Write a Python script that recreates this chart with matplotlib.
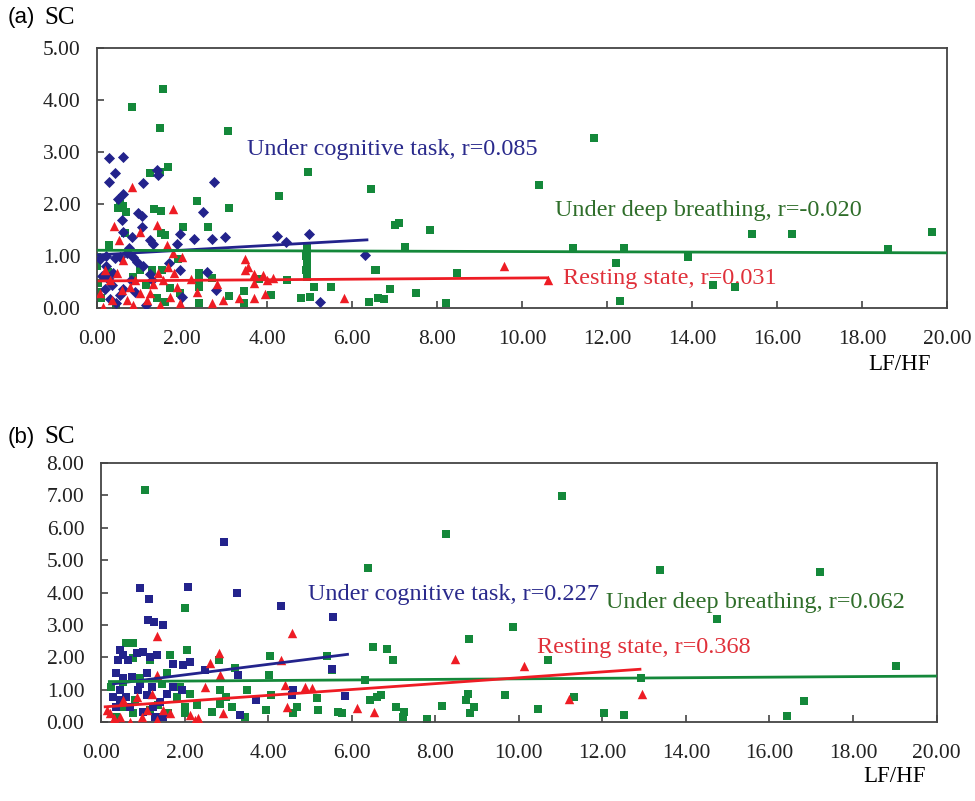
import matplotlib
matplotlib.use('Agg')
import matplotlib.pyplot as plt
from matplotlib.ticker import FormatStrFormatter, MultipleLocator

BLUE = '#23238c'
GREEN = '#14883a'
RED = '#ee1c24'
SERIF = 'Liberation Serif'

# ---- panel (a) data ----
a_cog_x = [0.29, 0.60, 0.42, 0.29, 1.09, 1.40, 1.44, 2.75, 0.60, 0.50,
           2.49, 0.97, 1.05, 0.58, 1.07, 0.62, 0.82, 1.25, 1.32, 1.95,
           2.27, 2.70, 3.00, 1.87, 4.23, 4.45, 4.99, 6.30, 0.07, 0.20,
           0.42, 0.54, 0.20, 0.37, 0.25, 0.18, 0.30, 0.45, 0.70, 0.85,
           0.93, 1.09, 0.80, 0.90, 0.60, 1.25, 1.30, 1.70, 1.95, 2.00,
           2.58, 2.80, 5.25, 0.12, 0.35, 0.55, 0.75, 1.15]
a_cog_y = [2.88, 2.90, 2.60, 2.42, 2.40, 2.65, 2.56, 2.43, 2.20, 2.10,
           1.85, 1.82, 1.76, 1.69, 1.56, 1.47, 1.37, 1.30, 1.24, 1.43,
           1.33, 1.33, 1.36, 1.24, 1.39, 1.27, 1.42, 1.02, 0.95, 1.00,
           0.97, 0.99, 0.81, 0.68, 0.56, 0.36, 0.17, 0.10, 1.05, 0.99,
           0.89, 0.80, 0.53, 0.30, 0.36, 0.66, 0.54, 0.86, 0.74, 0.22,
           0.70, 0.35, 0.12, 0.62, 0.45, 0.25, 1.15, 0.05]

a_deep_x = [1.56, 0.83, 1.48, 3.07, 1.68, 1.48, 1.25, 4.97, 6.44, 4.27,
            2.35, 3.11, 0.55, 0.62, 0.50, 0.68, 1.35, 1.50, 2.02, 2.61,
            1.50, 1.60, 0.66, 0.28, 0.00, 0.00, 0.03, 0.03, 0.85, 1.00,
            1.30, 1.52, 1.72, 2.40, 2.40, 2.40, 2.40, 1.95, 1.60, 3.10,
            3.45, 3.45, 4.46, 4.80, 5.00, 5.10, 5.50, 6.54, 6.40, 4.93,
            4.95, 4.92, 4.94, 4.93, 4.95, 4.92, 4.94, 4.93, 11.70, 10.40,
            7.00, 7.10, 7.84, 7.25, 6.56, 8.48, 11.20, 12.40, 12.20, 12.30,
            13.90, 14.50, 15.00, 15.40, 16.35, 18.60, 19.65, 6.60, 6.75, 6.90,
            7.50, 8.20, 0.10, 0.45, 1.15, 1.90, 0.25, 1.40, 2.70, 3.80,
            4.10]
a_deep_y = [4.22, 3.86, 3.47, 3.41, 2.72, 2.62, 2.60, 2.61, 2.28, 2.16,
            2.06, 1.93, 2.00, 1.96, 1.93, 1.85, 1.90, 1.86, 1.56, 1.56,
            1.45, 1.40, 1.45, 1.21, 0.99, 0.81, 0.49, 0.30, 0.60, 0.74,
            0.74, 0.74, 0.38, 0.67, 0.54, 0.41, 0.09, 0.28, 0.12, 0.23,
            0.32, 0.09, 0.54, 0.19, 0.22, 0.41, 0.41, 0.74, 0.12, 1.15,
            1.08, 1.00, 0.93, 0.86, 0.80, 0.73, 0.66, 0.60, 3.27, 2.37,
            1.60, 1.64, 1.50, 1.17, 0.73, 0.68, 1.15, 1.15, 0.87, 0.13,
            0.99, 0.44, 0.41, 1.42, 1.42, 1.13, 1.47, 0.20, 0.18, 0.36,
            0.29, 0.10, 0.20, 0.05, 0.45, 0.95, 0.70, 0.20, 0.58, 0.55,
            0.25]

a_rest_x = [0.83, 1.78, 0.39, 1.40, 1.01, 0.52, 1.65, 1.79, 1.99, 3.48,
            3.55, 3.48, 3.70, 3.90, 4.00, 3.70, 4.15, 3.70, 3.96, 3.33,
            2.82, 2.70, 2.97, 5.82, 9.58, 10.60, 0.19, 0.31, 0.46, 0.62,
            0.58, 0.78, 0.89, 1.01, 1.17, 1.32, 1.44, 1.56, 1.68, 1.80,
            1.87, 1.95, 1.72, 1.48, 1.25, 0.85, 0.70, 0.35, 0.07, 0.15,
            2.20, 2.35]
a_rest_y = [2.33, 1.90, 1.58, 1.60, 1.47, 1.30, 1.22, 1.05, 0.99, 0.95,
            0.79, 0.74, 0.66, 0.64, 0.54, 0.48, 0.57, 0.20, 0.27, 0.20,
            0.46, 0.10, 0.15, 0.20, 0.81, 0.53, 0.73, 0.54, 0.67, 0.92,
            0.35, 0.41, 0.54, 0.28, 0.15, 0.47, 0.67, 0.54, 0.79, 0.67,
            0.41, 0.09, 0.22, 0.06, 0.28, 0.06, 0.15, 0.15, 0.28, 0.02,
            0.55, 0.30]

# trend line end points (x, y)
a_fit_cog = ([0.0, 6.35], [1.02, 1.31])
a_fit_deep = ([0.0, 20.0], [1.11, 1.06])
a_fit_rest = ([0.05, 10.6], [0.52, 0.58])

# ---- panel (b) data ----
b_cog_x = [2.94, 0.93, 2.09, 3.25, 1.15, 4.32, 5.56, 1.13, 1.27, 1.49,
           0.45, 0.53, 0.41, 0.65, 0.85, 1.01, 1.17, 1.33, 1.73, 1.97,
           2.13, 2.49, 3.28, 5.52, 3.72, 5.84, 4.56, 4.60, 3.32, 0.37,
           0.53, 0.73, 0.93, 1.09, 0.45, 0.61, 0.89, 1.09, 1.21, 1.41,
           1.57, 1.73, 1.93, 0.37, 0.69, 1.01, 1.25, 1.29, 1.49, 0.45,
           0.29]
b_cog_y = [5.57, 4.15, 4.18, 4.00, 3.80, 3.58, 3.23, 3.15, 3.09, 3.01,
           2.22, 2.07, 1.92, 1.92, 2.12, 2.17, 2.02, 2.07, 1.80, 1.75,
           1.85, 1.62, 1.45, 1.65, 0.68, 0.80, 0.83, 0.98, 0.21, 1.50,
           1.35, 1.40, 1.19, 1.50, 0.99, 0.78, 0.99, 0.83, 1.09, 0.63,
           0.88, 1.09, 0.99, 0.47, 0.47, 0.32, 0.47, 0.16, 0.16, 0.68,
           0.78]

b_deep_x = [1.05, 6.40, 2.01, 6.50, 2.05, 0.61, 0.77, 0.77, 1.17, 1.65,
            2.83, 3.20, 4.04, 5.40, 5.52, 4.03, 0.93, 0.53, 1.57, 1.45,
            1.89, 2.13, 2.85, 3.00, 3.49, 4.08, 6.32, 6.44, 6.60, 5.16,
            5.20, 5.76, 5.68, 4.68, 4.60, 3.96, 3.44, 3.13, 2.85, 2.65,
            2.29, 2.00, 2.00, 1.61, 1.81, 1.37, 1.17, 0.77, 0.53, 0.37,
            0.81, 0.25, 11.04, 8.25, 13.38, 17.22, 14.74, 9.86, 8.81, 6.51,
            6.84, 6.99, 10.71, 19.04, 12.92, 6.71, 6.44, 7.06, 7.26, 7.22,
            7.80, 8.16, 8.78, 8.73, 8.92, 8.83, 9.68, 10.47, 11.31, 12.05,
            12.51, 16.42, 16.83]
b_deep_y = [7.18, 4.77, 3.51, 2.33, 2.24, 2.44, 2.44, 1.97, 1.92, 2.08,
            1.92, 1.67, 2.03, 2.03, 1.60, 1.45, 1.35, 1.25, 1.50, 1.19,
            1.09, 0.88, 0.99, 0.78, 0.99, 0.83, 1.29, 0.67, 0.78, 0.73,
            0.37, 0.27, 0.32, 0.47, 0.27, 0.37, 0.16, 0.47, 0.57, 0.32,
            0.52, 0.47, 0.27, 0.27, 0.78, 0.52, 0.37, 0.27, 0.47, 0.16,
            0.68, 1.09, 6.99, 5.82, 4.71, 4.62, 3.18, 2.94, 2.58, 2.32,
            2.27, 1.91, 1.91, 1.74, 1.35, 0.83, 0.68, 0.47, 0.32, 0.16,
            0.09, 0.49, 0.86, 0.68, 0.47, 0.29, 0.83, 0.39, 0.76, 0.27,
            0.22, 0.19, 0.65]

b_rest_x = [8.48, 10.13, 11.19, 12.94, 6.53, 1.35, 4.56, 2.83, 2.61, 4.32,
            1.33, 2.85, 2.49, 4.40, 4.88, 5.04, 6.12, 4.44, 2.93, 0.22,
            0.30, 0.69, 0.97, 1.33, 1.65, 2.13, 2.25, 2.33, 0.14, 0.45,
            1.09, 1.49, 0.53, 0.85, 1.21]
b_rest_y = [1.96, 1.74, 0.70, 0.88, 0.30, 2.65, 2.74, 2.12, 1.83, 1.93,
            1.45, 1.45, 1.09, 1.14, 1.09, 1.04, 0.43, 0.45, 0.27, 0.27,
            0.11, 0.01, 0.16, 0.06, 0.27, 0.21, 0.06, 0.11, 0.37, 0.16,
            0.37, 0.37, 0.68, 0.78, 0.88]

b_fit_cog = ([0.3, 5.9], [1.18, 2.09])
b_fit_deep = ([0.2, 20.0], [1.25, 1.42])
b_fit_rest = ([0.1, 12.9], [0.47, 1.63])


def style_axes(ax, ymax, ystep):
    ax.set_xlim(0, 20)
    ax.set_ylim(0, ymax)
    ax.xaxis.set_major_locator(MultipleLocator(2))
    ax.yaxis.set_major_locator(MultipleLocator(ystep))
    ax.xaxis.set_major_formatter(FormatStrFormatter('%.2f'))
    ax.yaxis.set_major_formatter(FormatStrFormatter('%.2f'))
    for s in ax.spines.values():
        s.set_color('#444444')
        s.set_linewidth(1.3)
    ax.tick_params(direction='in', length=5, width=1.2, color='#444444',
                   labelsize=15.5, labelcolor='#222222')
    ax.tick_params(axis='x', pad=16)
    ax.tick_params(axis='y', pad=12)
    for lab in ax.get_xticklabels() + ax.get_yticklabels():
        lab.set_fontfamily(SERIF)


fig = plt.figure(figsize=(9.75, 8.01), dpi=100)

# panel (a)
ax1 = fig.add_axes([0.0995, 0.6155, 0.872, 0.3246])
ax1.scatter(a_deep_x, a_deep_y, marker='s', s=38, color=GREEN, linewidths=0, zorder=2)
ax1.scatter(a_cog_x, a_cog_y, marker='D', s=32, color=BLUE, linewidths=0, zorder=3)
ax1.scatter(a_rest_x, a_rest_y, marker='^', s=46, color=RED, linewidths=0, zorder=4)
ax1.plot(*a_fit_cog, color=BLUE, lw=2, zorder=5)
ax1.plot(*a_fit_deep, color=GREEN, lw=2, zorder=5)
ax1.plot(*a_fit_rest, color=RED, lw=2, zorder=5)
ax1.text(3.53, 3.04, 'Under cognitive task, r=0.085', color='#2a2a8c',
         fontsize=17.5, family=SERIF, va='center')
ax1.text(10.78, 1.88, 'Under deep breathing, r=-0.020', color='#2f6e2a',
         fontsize=17.5, family=SERIF, va='center')
ax1.text(10.96, 0.56, 'Resting state, r=0.031', color='#e0303a',
         fontsize=17.5, family=SERIF, va='center', zorder=1)
style_axes(ax1, 5, 1)

# panel (b)
ax2 = fig.add_axes([0.1036, 0.0986, 0.857, 0.3233])
ax2.scatter(b_deep_x, b_deep_y, marker='s', s=38, color=GREEN, linewidths=0, zorder=2)
ax2.scatter(b_cog_x, b_cog_y, marker='s', s=38, color=BLUE, linewidths=0, zorder=3)
ax2.scatter(b_rest_x, b_rest_y, marker='^', s=46, color=RED, linewidths=0, zorder=4)
ax2.plot(*b_fit_cog, color=BLUE, lw=2, zorder=5)
ax2.plot(*b_fit_deep, color=GREEN, lw=2, zorder=5)
ax2.plot(*b_fit_rest, color=RED, lw=2, zorder=5)
ax2.text(4.95, 3.95, 'Under cognitive task, r=0.227', color='#2a2a8c',
         fontsize=17.5, family=SERIF, va='center')
ax2.text(12.08, 3.7, 'Under deep breathing, r=0.062', color='#2f6e2a',
         fontsize=17.5, family=SERIF, va='center')
ax2.text(10.43, 2.31, 'Resting state, r=0.368', color='#e0303a',
         fontsize=17.5, family=SERIF, va='center')
style_axes(ax2, 8, 1)

# panel letters and axis names
fig.text(8 / 975, 1 - 18 / 801, '(a)', fontsize=16, family='Liberation Sans', va='center')
fig.text(44 / 975, 1 - 18 / 801, 'SC', fontsize=18, family=SERIF, va='center')
fig.text(8 / 975, 1 - 437 / 801, '(b)', fontsize=16, family='Liberation Sans', va='center')
fig.text(44 / 975, 1 - 437 / 801, 'SC', fontsize=18, family=SERIF, va='center')
fig.text(900 / 975, 1 - 364 / 801, 'LF/HF', fontsize=16.5, family=SERIF, ha='center', va='center')
fig.text(895 / 975, 1 - 776 / 801, 'LF/HF', fontsize=16.5, family=SERIF, ha='center', va='center')

fig.savefig('out.png', dpi=100)
